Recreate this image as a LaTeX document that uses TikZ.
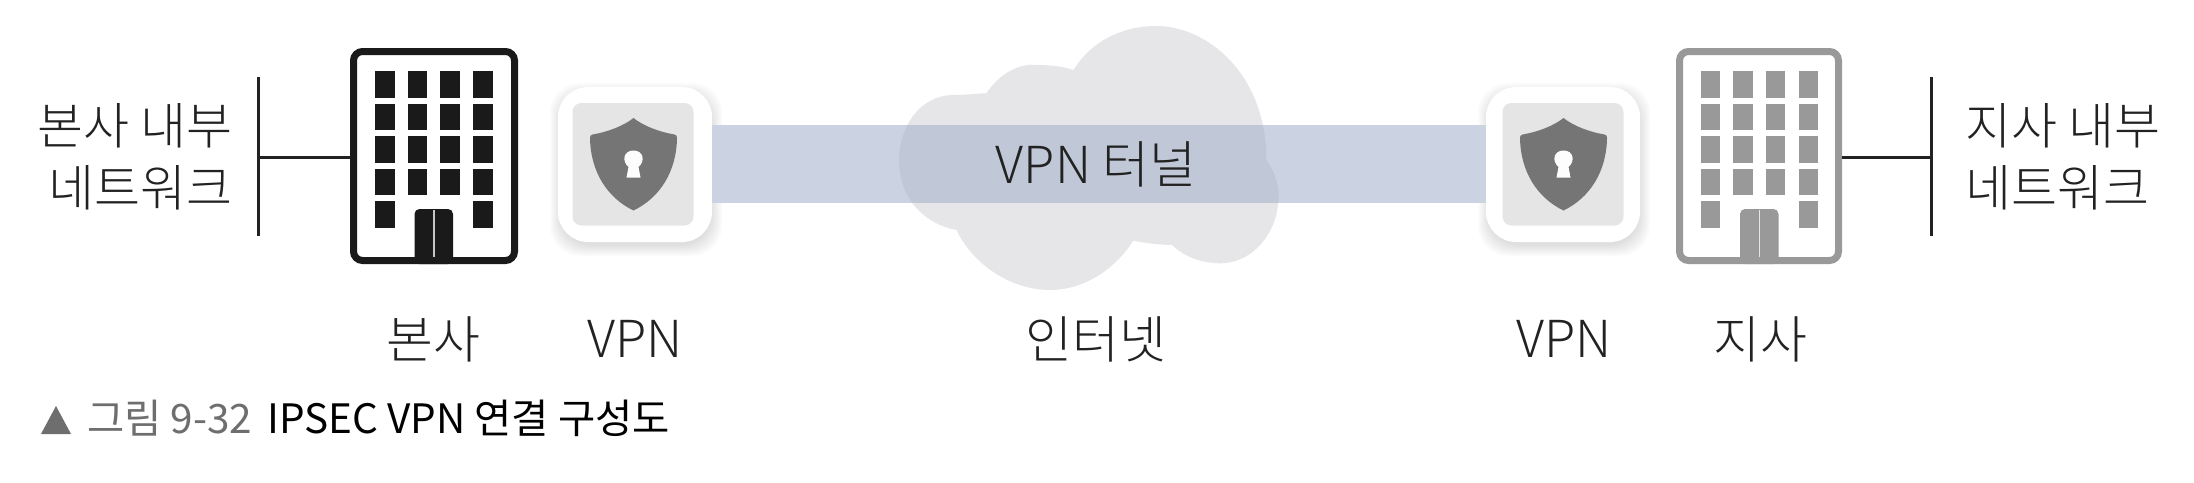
\documentclass[tikz,border=0pt]{standalone}
\usepackage{fontspec}
\newfontfamily\kr[UprightFont={* Light}]{Noto Sans CJK KR}
\newfontfamily\krcap{Noto Sans CJK KR}
\definecolor{ink}{HTML}{222222}
\definecolor{capgray}{HTML}{6E6E6E}
\definecolor{cloudc}{HTML}{E6E6E9}
\definecolor{bandc}{HTML}{CBD3E2}
\definecolor{overlapc}{HTML}{C0C8D7}
\definecolor{shieldc}{HTML}{757575}
\definecolor{plate}{HTML}{E5E5E5}
\definecolor{hqc}{HTML}{1A1A1A}
\definecolor{brc}{HTML}{999999}
\def\cloudpath{(580,280) .. controls (610,220) and (650,190) .. (690,195) .. controls (720,195) and (750,200) .. (770,210) .. controls (810,120) and (880,78) .. (950,78) .. controls (1060,78) and (1190,220) .. (1190,480) .. controls (1215,530) and (1220,570) .. (1215,620) .. controls (1205,720) and (1150,790) .. (1090,790) .. controls (1050,790) and (1010,770) .. (985,735) .. controls (960,735) and (930,730) .. (900,722) .. controls (860,810) and (790,870) .. (720,870) .. controls (630,870) and (550,790) .. (515,690) .. controls (440,670) and (390,590) .. (390,480) .. controls (390,390) and (430,285) .. (510,285) .. controls (540,285) and (560,280) .. (580,280) -- cycle}
\tikzset{
  lbl/.style={font=\kr\fontsize{51}{62}\selectfont,text=ink,inner sep=0pt,anchor=base},
  multi/.style={font=\kr\fontsize{50}{62}\selectfont,text=ink,inner sep=0pt},
  captext/.style={font=\krcap\fontsize{40.5}{46}\selectfont,inner sep=0pt,anchor=base west},
  wire/.style={draw=ink,line width=3pt},
  tower/.style={rectangle,rounded corners=9pt,line width=7pt,fill=white,minimum height=209pt,inner sep=0pt},
  vpnbox/.style={rectangle,rounded corners=30pt,fill=white,minimum width=154pt,minimum height=155pt,inner sep=0pt},
}
% tower: left edge, colour
\newcommand{\towerdetail}[2]{%
  \foreach \cx in {25,57.5,90,123}{
    \foreach \ry/\rh in {71/27,104/26,136/27,169/26}{
      \fill[#2] ({#1+\cx},\ry) rectangle ({#1+\cx+19.5},{\ry+\rh});
    }}
  \foreach \cx in {25,123}{\fill[#2] ({#1+\cx},201) rectangle ({#1+\cx+19.5},228);}
  \fill[#2,rounded corners=5pt] ({#1+64.5},264) -- ({#1+64.5},209) -- ({#1+103},209) -- ({#1+103},264) -- cycle;
  \fill[#2] ({#1+64.5},257) rectangle ({#1+103},264);
  \draw[white!75!#2,line width=1.5pt] ({#1+84},210) -- ({#1+84},257);
}
% vpn plate and shield: plate centre x, shield centre x
\newcommand{\vpndetail}[2]{%
  \fill[plate,rounded corners=9pt] ({#1-60.5},103) rectangle ({#1+60.5},225.5);
  \begin{scope}[xshift=#2pt]
  \fill[shieldc] (0,118) .. controls (10,126) and (26,132) .. (41,134.5)
     .. controls (43,135) and (43.5,136) .. (43.5,138)
     .. controls (43,172) and (26,198) .. (0,210.5)
     .. controls (-26,198) and (-43,172) .. (-43.5,138)
     .. controls (-43.5,136) and (-43,135) .. (-41,134.5)
     .. controls (-26,132) and (-10,126) .. (0,118) -- cycle;
  \fill[white!92!plate] (-7,177.5) -- (7,177.5) -- (5,167) .. controls (12,161) and (10,150.5) .. (0,150.5)
     .. controls (-10,150.5) and (-12,161) .. (-5,167) -- cycle;
  \end{scope}
}
\begin{document}
\begin{tikzpicture}[x=1pt,y=-1pt]
\path[use as bounding box,fill=white] (0,0) rectangle (2194,482);
% cloud
\fill[cloudc,xshift=720pt,x=0.4591pt,y=-0.3333pt] \cloudpath;
% vpn shadows and boxes
\foreach \bx in {635,1563}{
  \foreach \e in {9,7.5,6,4.5,3,1.5,0,-1.5}{
    \fill[black,opacity=0.016,rounded corners=30pt] ({\bx-77-\e+1},{87-\e+5}) rectangle ({\bx+77+\e+1},{242+\e+5});
  }
}
\node[vpnbox] (vpnL) at (635,164.5) {};
\node[vpnbox] (vpnR) at (1563,164.5) {};
% tunnel
\coordinate (bandTL) at (vpnL.east |- 0,125);
\coordinate (bandBR) at (vpnR.west |- 0,203);
\fill[bandc] (bandTL) rectangle (bandBR);
\begin{scope}
  \clip[xshift=720pt,x=0.4591pt,y=-0.3333pt] \cloudpath;
  \fill[overlapc] (bandTL) rectangle (bandBR);
\end{scope}
\vpndetail{633}{633.5}
\vpndetail{1563}{1563.5}
% buildings
\node[tower,draw=hqc,minimum width=161pt] (hq) at (434,156) {};
\towerdetail{350}{hqc}
\node[tower,draw=brc,minimum width=159pt] (br) at (1759,156) {};
\towerdetail{1675.5}{brc}
% network wires
\coordinate (hqbusT) at (258.5,77);
\coordinate (hqbusB) at (258.5,236);
\coordinate (hqbus) at (258.5,157);
\coordinate (brbusT) at (1931,77);
\coordinate (brbusB) at (1931,236);
\coordinate (brbus) at (1931,157);
\draw[wire] (hqbusT) -- (hqbusB);
\draw[wire] (hqbus) -- (hq.west |- hqbus);
\draw[wire] (brbusT) -- (brbusB);
\draw[wire] (brbus) -- (br.east |- brbus);
% labels
\node[multi,align=right,anchor=east] (nethq) at (233,157) {본사 내부\\네트워크};
\node[multi,align=left,anchor=west] (netbr) at (1965,157) {지사 내부\\네트워크};
\node[lbl] (lhq) at (433,358) {본사};
\node[lbl] (lvl) at (635,357) {VPN};
\node[lbl] (lnet) at (1096,358) {인터넷};
\node[lbl] (lvr) at (1564,357) {VPN};
\node[lbl] (lbr) at (1760,358) {지사};
\node[lbl] (ltun) at (1096,183) {VPN 터널};
% caption
\fill[capgray] (41,434) -- (56,406) -- (71,434) -- cycle;
\node[captext,text=capgray] (c1) at (87,433) {그림 9-32};
\node[captext,text=black] (c2) at (267,433) {IPSEC VPN 연결 구성도};
\end{tikzpicture}
\end{document}
